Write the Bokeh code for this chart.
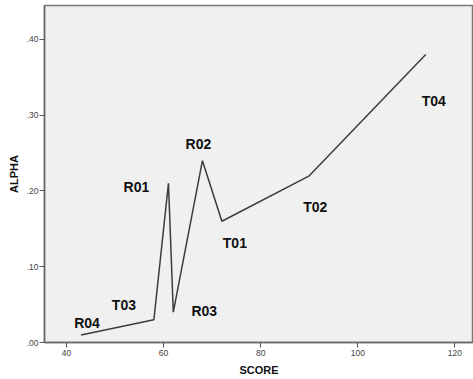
from bokeh.plotting import figure
from bokeh.models import ColumnDataSource, FixedTicker
from bokeh.core.properties import value
from bokeh.embed import file_html
from bokeh.resources import INLINE

# Data
names = ["R04", "T03", "R01", "R03", "R02", "T01", "T02", "T04"]
score = [43, 58, 61, 62, 68, 72, 90, 114]
alpha = [0.01, 0.03, 0.21, 0.04, 0.24, 0.16, 0.22, 0.38]

x_ticks = [40, 60, 80, 100, 120]
x_tick_labels = ["40", "60", "80", "100", "120"]
y_ticks = [0.0, 0.1, 0.2, 0.3, 0.4]
y_tick_labels = [".00", ".10", ".20", ".30", ".40"]

# Label placement (pixel offsets from each point; layout only)
label_dx = [6, -30, -32, 31, -4, 13, 6, 8]
label_dy = [-12, -15, 4, -1, -17, 22, 31, 46]

src = ColumnDataSource(dict(x=score, y=alpha, name=names, dx=label_dx, dy=label_dy))

p = figure(width=473, height=379, output_backend="svg", toolbar_location=None,
           x_range=(35.47, 123.83), y_range=(0, 0.4448),
           min_border_left=44, min_border_right=0, min_border_top=5, min_border_bottom=37)

p.background_fill_color = "#F0F0F0"
p.border_fill_color = "white"
p.outline_line_color = "#777777"
p.outline_line_width = 1.5
p.xgrid.visible = False
p.ygrid.visible = False

p.line("x", "y", source=src, line_color="#3c3c3c", line_width=1.5)
p.text("x", "y", text="name", source=src, x_offset="dx", y_offset="dy",
       text_align="center", text_baseline="middle",
       text_font=value("Liberation Sans"), text_font_style="bold",
       text_font_size="14px", text_color="#111111")

for ax in (p.xaxis[0], p.yaxis[0]):
    ax.axis_line_color = "#666666"
    ax.axis_line_width = 1.5
    ax.major_tick_line_color = "#555555"
    ax.major_tick_out = 5
    ax.major_tick_in = 0
    ax.minor_tick_line_color = None
    ax.major_label_text_font = "Liberation Sans"
    ax.major_label_text_font_size = "8.5px"
    ax.major_label_text_color = "#444444"
    ax.axis_label_text_font = "Liberation Sans"
    ax.axis_label_text_font_style = "bold"
    ax.axis_label_text_font_size = "11px"
    ax.axis_label_text_color = "#111111"

p.xaxis.ticker = FixedTicker(ticks=x_ticks)
p.xaxis.major_label_overrides = {t: l for t, l in zip(x_ticks, x_tick_labels)}
p.yaxis.ticker = FixedTicker(ticks=y_ticks)
p.yaxis.major_label_overrides = {t: l for t, l in zip(y_ticks, y_tick_labels)}
p.xaxis.axis_label = "SCORE"
p.yaxis.axis_label = "ALPHA"
p.xaxis.major_label_standoff = 2
p.xaxis.axis_label_standoff = 5
p.yaxis.major_label_standoff = 1
p.yaxis.axis_label_standoff = 4

open("out.html", "w").write(file_html(p, INLINE))
